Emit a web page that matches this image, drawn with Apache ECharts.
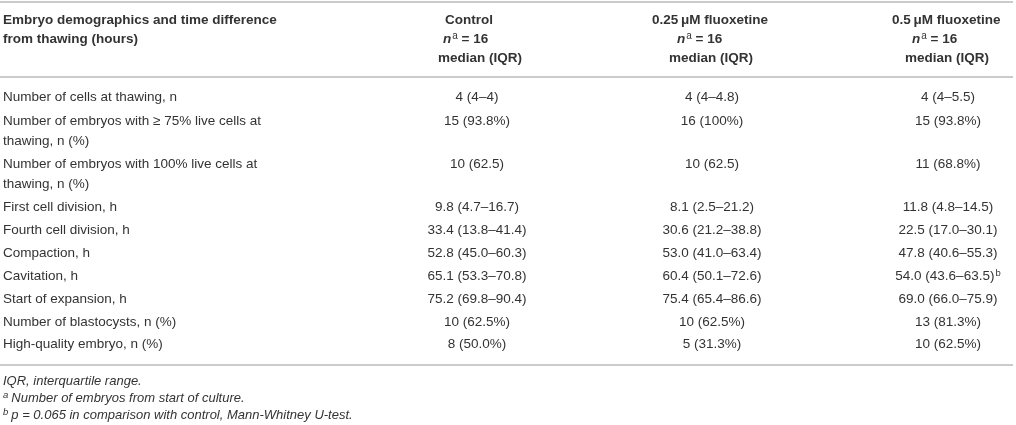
<!DOCTYPE html>
<html><head><meta charset="utf-8">
<script src="https://cdn.jsdelivr.net/npm/echarts@6/dist/echarts.min.js"></script>
<style>html,body{margin:0;padding:0;background:#fff}#c{width:1016px;height:425px}</style>
</head><body><div id="c"></div><script>
// ---- data ----
const headerTitle = ['Embryo demographics and time difference', 'from thawing (hours)'];
const groupNames = ['Control', '0.25\u2009\u03bcM fluoxetine', '0.5\u2009\u03bcM fluoxetine'];
const groupN = [16, 16, 16];
const statLabel = 'median (IQR)';
const rowLabels = [
  'Number of cells at thawing, n',
  'Number of embryos with \u2265 75% live cells at\nthawing, n (%)',
  'Number of embryos with 100% live cells at\nthawing, n (%)',
  'First cell division, h',
  'Fourth cell division, h',
  'Compaction, h',
  'Cavitation, h',
  'Start of expansion, h',
  'Number of blastocysts, n (%)',
  'High-quality embryo, n (%)'
];
const controlValues = ['4 (4\u20134)', '15 (93.8%)', '10 (62.5)', '9.8 (4.7\u201316.7)', '33.4 (13.8\u201341.4)', '52.8 (45.0\u201360.3)', '65.1 (53.3\u201370.8)', '75.2 (69.8\u201390.4)', '10 (62.5%)', '8 (50.0%)'];
const fluox025Values = ['4 (4\u20134.8)', '16 (100%)', '10 (62.5)', '8.1 (2.5\u201321.2)', '30.6 (21.2\u201338.8)', '53.0 (41.0\u201363.4)', '60.4 (50.1\u201372.6)', '75.4 (65.4\u201386.6)', '10 (62.5%)', '5 (31.3%)'];
const fluox05Values = ['4 (4\u20135.5)', '15 (93.8%)', '11 (68.8%)', '11.8 (4.8\u201314.5)', '22.5 (17.0\u201330.1)', '47.8 (40.6\u201355.3)', '54.0 (43.6\u201363.5)', '69.0 (66.0\u201375.9)', '13 (81.3%)', '10 (62.5%)'];
const fluox05Marks = ['', '', '', '', '', '', 'b', '', '', ''];
const footnoteMarks = ['', 'a', 'b'];
const footnoteTexts = ['IQR, interquartile range.', 'Number of embryos from start of culture.', 'p = 0.065 in comparison with control, Mann-Whitney U-test.'];

// ---- layout ----
const W = 1016, H = 425;
const FONT = '"Liberation Sans", Arial, Helvetica, sans-serif';
const colCenter = [477, 712, 948];
const headLeft = [[445, 443, 438], [652, 677, 669], [892, 912, 905]];
const headY = [20, 39, 58];
const rowY = [97, 121, 164, 207, 230, 253, 276, 299, 322, 344];
const lineGap = 20;
const labelX = 3;
const ruleY = [2, 77, 365];
const footY = [381, 398, 415];
const BODY = '#333', BOLD = '#1e1e1e';
const BS = 13.5, HS = 13.5, FS = 13;

const rich = {
  m: { fontFamily: FONT, fontSize: BS, color: BODY, lineHeight: 18 },
  sup: { fontFamily: FONT, fontSize: 9.5, color: BODY, lineHeight: 10, verticalAlign: 'top', padding: [1, 0, 0, 1] },
  hb: { fontFamily: FONT, fontSize: HS, fontWeight: 'bold', color: BOLD, lineHeight: 18 },
  hi: { fontFamily: FONT, fontSize: HS, fontWeight: 'bold', fontStyle: 'italic', color: BOLD, lineHeight: 18 },
  hsup: { fontFamily: FONT, fontSize: 10, color: BOLD, lineHeight: 10, verticalAlign: 'top', padding: [1, 0, 0, 1] },
  fi: { fontFamily: FONT, fontSize: FS, fontStyle: 'italic', color: BODY, lineHeight: 18 },
  fsup: { fontFamily: FONT, fontSize: 9.5, fontStyle: 'italic', color: BODY, lineHeight: 10, verticalAlign: 'top', padding: [1, 3, 0, 0] }
};

const cells = [];
function add(x, y, text, align) { cells.push({ x: x, y: y, text: text, align: align }); }

headerTitle.forEach((t, i) => add(labelX, headY[i], '{hb|' + t + '}', 'left'));
groupNames.forEach((g, i) => {
  add(headLeft[i][0], headY[0], '{hb|' + g + '}', 'left');
  add(headLeft[i][1], headY[1], '{hi|n}{hsup|a}{hb| = ' + groupN[i] + '}', 'left');
  add(headLeft[i][2], headY[2], '{hb|' + statLabel + '}', 'left');
});
rowLabels.forEach((lab, r) => {
  lab.split('\n').forEach((ln, k) => add(labelX, rowY[r] + k * lineGap, '{m|' + ln + '}', 'left'));
});
[controlValues, fluox025Values, fluox05Values].forEach((vals, g) => {
  vals.forEach((v, r) => {
    let t = '{m|' + v + '}';
    if (g === 2 && fluox05Marks[r]) t += '{sup|' + fluox05Marks[r] + '}';
    add(colCenter[g], rowY[r], t, 'center');
  });
});
footnoteTexts.forEach((f, i) => {
  const t = (footnoteMarks[i] ? '{fsup|' + footnoteMarks[i] + '}' : '') + '{fi|' + f + '}';
  add(labelX, footY[i], t, 'left');
});

const chart = echarts.init(document.getElementById('c'), null, { renderer: 'canvas' });
chart.setOption({
  animation: false,
  backgroundColor: '#fff',
  grid: { left: 0, right: 0, top: 0, bottom: 0 },
  xAxis: { type: 'value', min: 0, max: W, show: false },
  yAxis: { type: 'value', min: 0, max: H, inverse: true, show: false },
  series: [
    {
      type: 'custom',
      clip: false,
      data: ruleY.map(y => [0, y]),
      renderItem: function (params, api) {
        const a = api.coord([0, api.value(1)]);
        const b = api.coord([1013, api.value(1)]);
        return { type: 'line', shape: { x1: a[0], y1: a[1], x2: b[0], y2: b[1] }, style: { stroke: '#cbcbcb', lineWidth: 2 } };
      }
    },
    {
      type: 'custom',
      clip: false,
      data: cells.map(c => [c.x, c.y]),
      renderItem: function (params, api) {
        const c = cells[params.dataIndex];
        const p = api.coord([api.value(0), api.value(1)]);
        return {
          type: 'text', x: p[0], y: p[1],
          style: { text: c.text, rich: rich, align: c.align, verticalAlign: 'middle', fill: BODY, font: BS + 'px ' + FONT }
        };
      }
    }
  ]
});
</script></body></html>
